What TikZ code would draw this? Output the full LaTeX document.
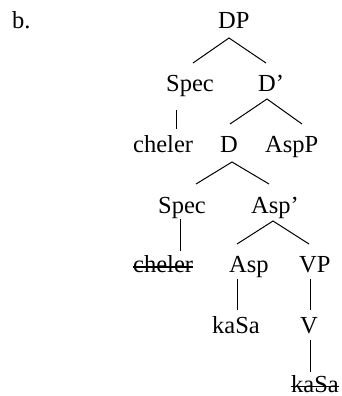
\documentclass[tikz,border=0pt]{standalone}
\usepackage{fontspec}
\setmainfont{Liberation Serif}
\usetikzlibrary{calc}
\begin{document}
\begin{tikzpicture}[x=1pt,y=-1pt,
  lbl/.style={anchor=base west,inner sep=0pt,font=\fontsize{24.5}{28}\selectfont},
  branch/.style={line width=1pt,line cap=butt},
  strike/.style={line width=1.1pt}]
\useasboundingbox (0,0) rectangle (341,396);
% labels
\node[lbl] (b) at (12,29) {b.};
\node[lbl] (DP) at (218,29) {DP};
\node[lbl] (spec1) at (166,92) {Spec};
\node[lbl] (Dbar) at (258,92) {D’};
\node[lbl] (cheler1) at (133,152) {cheler};
\node[lbl] (D) at (220,152) {D};
\node[lbl] (AspP) at (265,152) {AspP};
\node[lbl] (spec2) at (158,213) {Spec};
\node[lbl] (Aspbar) at (251,213) {Asp’};
\node[lbl] (cheler2) at (133,272) {cheler};
\node[lbl] (Asp) at (229,272) {Asp};
\node[lbl] (VP) at (299,272) {VP};
\node[lbl] (kasa1) at (212,333) {kaSa};
\node[lbl] (V) at (300,333) {V};
\node[lbl] (kasa2) at (291,392) {kaSa};
% branch end points
\coordinate (DPa) at (229,38);
\coordinate (DPl) at (193,63);
\coordinate (DPr) at (266,63);
\coordinate (S1t) at (176,110);
\coordinate (S1b) at (176,129);
\coordinate (Dba) at (267,99);
\coordinate (Dbl) at (230,124);
\coordinate (Dbr) at (302,124);
\coordinate (Da) at (232,162);
\coordinate (Dl) at (196,184);
\coordinate (Dr) at (269,184);
\coordinate (S2t) at (180,219);
\coordinate (S2b) at (180,251);
\coordinate (Aba) at (273,221);
\coordinate (Abl) at (237,244);
\coordinate (Abr) at (309,244);
\coordinate (Ast) at (237,279);
\coordinate (Asb) at (237,310);
\coordinate (VPt) at (310,279);
\coordinate (VPb) at (310,310);
\coordinate (Vt) at (310,340);
\coordinate (Vb) at (310,372);
% branches
\draw[branch] (DPl) -- (DPa) -- (DPr);
\draw[branch] (S1t) -- (S1b);
\draw[branch] (Dbl) -- (Dba) -- (Dbr);
\draw[branch] (Dl) -- (Da) -- (Dr);
\draw[branch] (S2t) -- (S2b);
\draw[branch] (Abl) -- (Aba) -- (Abr);
\draw[branch] (Ast) -- (Asb);
\draw[branch] (VPt) -- (VPb);
\draw[branch] (Vt) -- (Vb);
% strike-outs
\draw[strike] ($(cheler2.base west)+(0,-5)$) -- ($(cheler2.base east)+(0,-5)$);
\draw[strike] ($(kasa2.base west)+(0,-5.5)$) -- ($(kasa2.base east)+(0,-5.5)$);
\end{tikzpicture}
\end{document}
